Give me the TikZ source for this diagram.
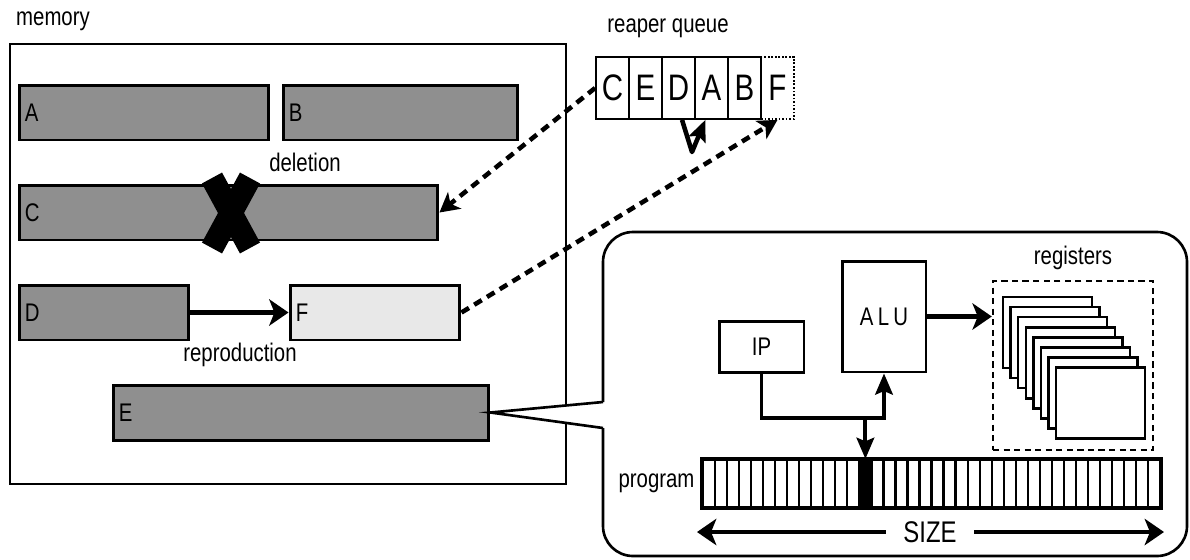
\documentclass[tikz,border=0pt]{standalone}
\usepackage{fontspec}
\setmainfont{Liberation Sans}[FakeStretch=0.8]
\usepackage{tikz}
\usetikzlibrary{positioning, arrows.meta}
\definecolor{blockgray}{RGB}{143, 143, 143}
\definecolor{childgray}{RGB}{232, 232, 232}

\begin{document}
\begin{tikzpicture}[
  x=0.02cm, y=-0.02cm,
  every node/.style={font=\fontsize{14.5}{17}\selectfont},
  memblock/.style={draw, line width=1.7pt, fill=blockgray, minimum height=1.1cm, inner sep=0pt},
  blocklabel/.style={anchor=west, inner sep=4pt},
  qcell/.style={draw, line width=1pt, minimum width=0.66cm, minimum height=1.24cm, inner sep=0pt, font=\fontsize{21}{24}\selectfont},
  unit/.style={draw, line width=1.7pt, fill=white, inner sep=0pt},
  tapecell/.style={draw, line width=1.3pt, minimum width=0.2406cm, minimum height=0.94cm, inner sep=0pt},
  card/.style={draw, line width=1.4pt, fill=white, minimum width=1.78cm, minimum height=1.42cm, inner sep=0pt},
  flow/.style={-{Stealth[length=11pt, width=15pt, inset=3pt]}, line width=2.4pt},
  busflow/.style={-{Stealth[length=12pt, width=10pt, inset=2pt]}, line width=2.2pt},
  pointer/.style={-{Stealth[length=11pt, width=12pt, inset=3pt]}, line width=2.6pt, dash pattern=on 5pt off 3.5pt}
]
  \useasboundingbox (0,0) rectangle (1190,559);

  % Memory
  \node[draw, line width=1.3pt, minimum width=11.12cm, minimum height=8.8cm] (memory) at (288,264) {};
  \node[anchor=west] (memlabel) at (10,21) {memory};

  \node[memblock, minimum width=5cm, label={[blocklabel]west:A}] (A) at (144,112.5) {};
  \node[memblock, minimum width=4.7cm, label={[blocklabel]west:B}] (B) at (400.5,112.5) {};
  \node[memblock, minimum width=8.38cm, label={[blocklabel]west:C}] (C) at (228.5,212.5) {};
  \node[memblock, minimum width=3.4cm, label={[blocklabel]west:D}] (D) at (104,312.5) {};
  \node[memblock, minimum width=3.4cm, fill=childgray, label={[blocklabel]west:F}] (F) at (375,312.5) {};
  \node[memblock, minimum width=7.52cm, label={[blocklabel]west:E}] (E) at (301,412.5) {};

  \node (deletion) at (305,162) {deletion};
  \node (reproduction) at (240,355) {reproduction};

  % Deleted block
  \draw[line width=13pt] (212,178) -- (250,248);
  \draw[line width=13pt] (250,178) -- (212,248);

  % Reaper queue
  \node (queuelabel) at (668,28) {reaper queue};
  \foreach \name/\i in {C/1, E/2, D/3, A/4, B/5} {
    \node[qcell] (q\i) at ({579.5+33*\i},88) {\name};
  }
  \node[qcell, densely dotted] (q6) at (777.5,88) {F};

  % Queue pointers
  \draw[pointer] (q1.west) -- (C.east);
  \draw[pointer] (F.east) -- (q6.south);
  \draw[busflow, line width=2.6pt, line join=round] ([xshift=2pt]q3.south) -- (692,152) -- ([xshift=-3.5pt]q4.south);
  \draw[flow] (D.east) -- (F.west);

  % Zoom on E
  \coordinate (zoomtop) at (603,402);
  \coordinate (zoombot) at (603,428);
  \draw[line width=1.5pt, rounded corners=0.6cm] (zoomtop) -- (603,232) -- (1187,232) -- (1187,556) -- (603,556) -- (zoombot);
  \draw[line width=1.5pt, fill=white] (zoomtop) -- (E.east) -- (zoombot);

  % Processor
  \node[unit, minimum width=1.7cm, minimum height=1.02cm] (IP) at (761.5,346.5) {IP};
  \node[unit, minimum width=1.68cm, minimum height=2.22cm] (ALU) at (884,316.5) {A\,L\,U};

  % Registers
  \node[draw, line width=1.4pt, dash pattern=on 3.5pt off 2.5pt, minimum width=3.2cm, minimum height=3.38cm] (regs) at (1073,365.5) {};
  \node (reglabel) at (1073,258) {registers};
  \foreach \i in {0,...,7} {
    \node[card] (r\i) at ({1047.5+7.6*\i},{332.5+10.1*\i}) {};
  }
  \draw[flow] (ALU.east) -- (ALU.east -| regs.west);

  % Program tape
  \foreach \i in {0,...,37} {
    \node[tapecell] (p\i) at ({709+12.03*\i},483.5) {};
  }
  \fill (p13.south west) rectangle (p13.north east);
  \draw[line width=1.7pt] (p0.north west) rectangle (p37.south east);
  \node[anchor=east, inner sep=4pt] (proglabel) at (p0.west) {program};

  % Instruction pointer
  \coordinate (bus) at (p13.north |- 0,418);
  \draw[busflow] (IP.south) |- (bus) -| (ALU.south);
  \draw[busflow] (bus) -- (p13.north);

  % Size
  \node[font=\fontsize{17}{20}\selectfont, inner xsep=10pt] (size) at (930,532) {SIZE};
  \coordinate (sizeleft) at (697,532);
  \coordinate (sizeright) at (1164,532);
  \draw[flow] (size.west) -- (sizeleft);
  \draw[flow] (size.east) -- (sizeright);
\end{tikzpicture}
\end{document}
